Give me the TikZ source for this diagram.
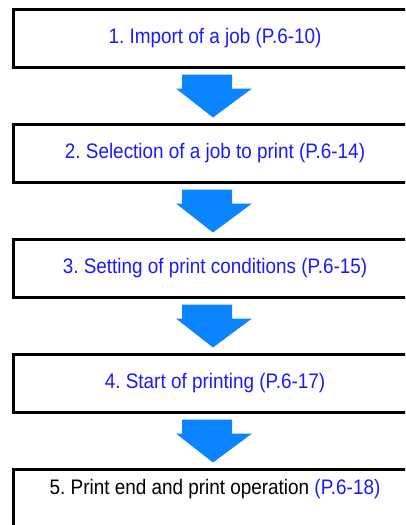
\documentclass[tikz,border=0pt]{standalone}
\usepackage{fontspec}
\setmainfont[FakeStretch=0.9]{Liberation Sans}
\usepackage{xcolor}
\usepackage{tikz}
\usetikzlibrary{positioning, calc}
\definecolor{linkblue}{HTML}{1A1AFF}
\definecolor{arrowblue}{HTML}{0A84FF}
\frenchspacing
\tikzset{
    stepbox/.style={rectangle, minimum width=404pt, minimum height=58pt, outer sep=0pt, text centered, draw=black, line width=3pt, text=linkblue, font=\fontsize{21}{24}\selectfont},
    lastbox/.style={stepbox, minimum height=0pt, inner ysep=0pt, text height=25pt, text depth=80pt, text=black},
    flowarrow/.style={fill=arrowblue, draw=none}
}

\begin{document}
\begin{tikzpicture}[node distance=57pt]
    \useasboundingbox (0,0) rectangle (405pt,-525pt);
    \clip (0,0) rectangle (405pt,-525pt);
    \node (b1) [stepbox] at (215pt,-38.5pt) {1. Import of a job (P.6-10)};
    \node (b2) [stepbox, below=of b1] {2. Selection of a job to print (P.6-14)};
    \node (b3) [stepbox, below=of b2] {3. Setting of print conditions (P.6-15)};
    \node (b4) [stepbox, below=of b3] {4. Start of printing (P.6-17)};
    \node (b5) [lastbox, below=of b4] {5. Print end and print operation \textcolor{linkblue}{(P.6-18)}};

    \foreach \a/\b in {b1/b2, b2/b3, b3/b4, b4/b5}
        \fill [flowarrow] ($(\a.south)+(-33pt,-7pt)$) -- ++(50pt,0) -- ++(0,-14pt) -- ++(20pt,0)
            -- ($(\b.north)+(-2pt,7pt)$) -- ($(\a.south)+(-39pt,-21pt)$) -- ++(6pt,0) -- cycle;
\end{tikzpicture}
\end{document}
